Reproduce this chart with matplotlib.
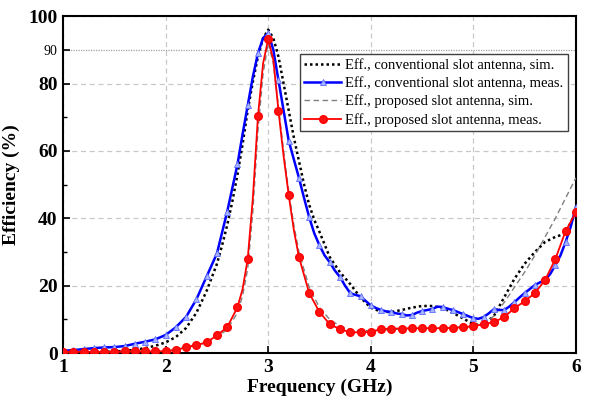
import numpy as np
import matplotlib
matplotlib.use('Agg')
import matplotlib.pyplot as plt

plt.rcParams['font.family'] = ['Liberation Serif', 'DejaVu Serif']

# conventional slot antenna, simulated (black dotted)
f_conv_sim = [1.0, 1.1, 1.2, 1.3, 1.4, 1.5, 1.6, 1.7, 1.8, 1.9, 2.0, 2.1, 2.2, 2.3, 2.4, 2.5,
              2.55, 2.6, 2.65, 2.7, 2.75, 2.8, 2.85, 2.9, 2.95, 3.0, 3.05, 3.1, 3.15, 3.2, 3.25,
              3.3, 3.35, 3.4, 3.45, 3.5, 3.6, 3.7, 3.8, 3.9, 4.0, 4.1, 4.2, 4.3, 4.4, 4.5, 4.6,
              4.7, 4.8, 4.9, 5.0, 5.1, 5.2, 5.3, 5.4, 5.5, 5.6, 5.7, 5.8, 5.9, 6.0]
eff_conv_sim = [0.3, 0.3, 0.35, 0.4, 0.45, 0.5, 0.7, 1.0, 1.5, 2.2, 3.2, 4.8, 7.5, 12.0, 18.5, 26.5,
                32.0, 38.0, 45.0, 53.0, 62.0, 72.0, 80.5, 88.0, 93.5, 96.0, 93.5, 88.0, 80.0, 72.0, 64.0,
                57.0, 50.0, 44.0, 39.5, 36.0, 28.5, 24.0, 20.5, 16.5, 13.5, 12.3, 12.2, 12.8, 13.5, 14.0, 14.0,
                13.4, 12.0, 10.3, 8.6, 8.6, 11.0, 16.5, 22.0, 26.5, 30.0, 33.0, 34.5, 35.5, 42.0]

# conventional slot antenna, measured (blue, triangles every 0.1 GHz)
f_conv_meas = [1.0, 1.1, 1.2, 1.3, 1.4, 1.5, 1.6, 1.7, 1.8, 1.9, 2.0, 2.1, 2.2, 2.3, 2.4, 2.5,
               2.6, 2.65, 2.7, 2.75, 2.8, 2.85, 2.9, 2.95, 3.0, 3.05, 3.1, 3.15, 3.2, 3.25, 3.3, 3.35,
               3.4, 3.45, 3.5, 3.55, 3.6, 3.65, 3.7, 3.75, 3.8, 3.85, 3.9, 3.95, 4.0, 4.05, 4.1, 4.15,
               4.2, 4.25, 4.3, 4.35, 4.4, 4.45, 4.5, 4.55, 4.6, 4.65, 4.7, 4.75, 4.8, 4.85, 4.9, 4.95,
               5.0, 5.05, 5.1, 5.15, 5.2, 5.25, 5.3, 5.35, 5.4, 5.45, 5.5, 5.55, 5.6, 5.65, 5.7, 5.75,
               5.8, 5.85, 5.9, 5.95, 6.0]
eff_conv_meas = [0.7, 0.9, 1.2, 1.5, 1.7, 1.8, 2.1, 2.8, 3.4, 4.1, 5.4, 7.7, 10.8, 16.0, 22.8, 29.6,
                 42.0, 49.0, 56.0, 65.0, 73.5, 82.0, 89.0, 93.5, 95.0, 90.0, 81.0, 72.0, 63.0, 57.5, 52.0, 46.0,
                 40.3, 35.5, 32.0, 29.0, 27.0, 24.5, 22.6, 20.0, 17.8, 17.3, 16.9, 15.5, 14.2, 13.4, 12.8, 12.4,
                 12.2, 11.8, 11.6, 11.2, 11.3, 12.0, 12.5, 12.8, 13.1, 13.8, 13.7, 13.2, 12.8, 12.2, 11.6, 11.0,
                 10.4, 10.2, 10.7, 11.8, 13.0, 12.8, 12.8, 13.8, 15.1, 16.5, 17.8, 19.0, 20.2, 21.0, 21.7, 23.5,
                 26.1, 29.0, 33.0, 37.5, 43.3]

# proposed slot antenna, simulated (grey dashed)
f_prop_sim = [1.0, 1.2, 1.4, 1.6, 1.8, 2.0, 2.1, 2.2, 2.3, 2.4, 2.5, 2.6, 2.7, 2.75, 2.8, 2.85,
              2.9, 2.95, 3.0, 3.05, 3.1, 3.15, 3.2, 3.25, 3.3, 3.4, 3.5, 3.6, 3.7, 3.8, 3.9, 4.0,
              4.2, 4.4, 4.6, 4.8, 5.0, 5.1, 5.2, 5.3, 5.4, 5.5, 5.6, 5.7, 5.8, 5.9, 6.0]
eff_prop_sim = [0.3, 0.3, 0.35, 0.45, 0.6, 0.9, 1.2, 1.6, 2.3, 3.2, 4.8, 7.0, 12.0, 17.0, 25.0, 42.0,
                66.0, 83.0, 92.0, 86.0, 73.0, 60.0, 48.0, 38.0, 30.0, 19.5, 13.5, 10.0, 8.0, 7.0, 6.7, 6.7,
                7.0, 7.2, 7.4, 7.6, 7.9, 8.6, 11.0, 15.0, 19.5, 24.0, 29.0, 34.5, 40.0, 46.0, 52.0]

# proposed slot antenna, measured (red, circles every 0.1 GHz)
f_prop_meas = [1.0, 1.1, 1.2, 1.3, 1.4, 1.5, 1.6, 1.7, 1.8, 1.9, 2.0, 2.1, 2.2, 2.3, 2.4, 2.5,
               2.6, 2.7, 2.75, 2.8, 2.85, 2.9, 2.95, 3.0, 3.05, 3.1, 3.15, 3.2, 3.25, 3.3, 3.4, 3.5,
               3.6, 3.7, 3.8, 3.9, 4.0, 4.1, 4.2, 4.3, 4.4, 4.5, 4.6, 4.7, 4.8, 4.9, 5.0, 5.1,
               5.2, 5.3, 5.4, 5.5, 5.6, 5.7, 5.8, 5.9, 6.0]
eff_prop_meas = [0.4, 0.4, 0.4, 0.4, 0.4, 0.4, 0.5, 0.5, 0.5, 0.5, 0.6, 0.9, 1.8, 2.4, 3.2, 5.3,
                 7.7, 13.6, 19.0, 27.9, 46.0, 70.3, 86.0, 93.2, 87.0, 72.0, 58.5, 46.9, 36.5, 28.5, 17.8, 12.2,
                 8.6, 7.1, 6.2, 6.2, 6.3, 7.1, 7.3, 7.3, 7.4, 7.4, 7.4, 7.4, 7.5, 7.7, 8.0, 8.6,
                 9.2, 10.7, 13.3, 15.4, 17.8, 21.7, 27.9, 36.2, 41.8]


def tenth_marks(freqs):
    f = np.asarray(freqs)
    return [i for i, v in enumerate(f) if abs(v * 10 - round(v * 10)) < 1e-6]


fig = plt.figure(figsize=(5.9, 4.05), dpi=100)
ax = fig.add_axes([0.107, 0.128, 0.869, 0.832])

ax.plot(f_conv_sim, eff_conv_sim, color='black', linestyle=(0, (1, 1.2)), lw=1.8,
        label='Eff., conventional slot antenna, sim.', zorder=3)
ax.plot(f_conv_meas, eff_conv_meas, color='#0000ff', lw=1.8, marker='^', markersize=4.5,
        markerfacecolor='#aab4ff', markeredgecolor='#5a6cff', markeredgewidth=0.6,
        markevery=tenth_marks(f_conv_meas),
        label='Eff., conventional slot antenna, meas.', zorder=4)
ax.plot(f_prop_sim, eff_prop_sim, color='#808080', linestyle=(0, (4, 2.5)), lw=1.0,
        label='Eff., proposed slot antenna, sim.', zorder=3)
ax.plot(f_prop_meas, eff_prop_meas, color='#ff0000', lw=1.3, marker='o', markersize=5.5,
        markerfacecolor='#ff1010', markeredgecolor='#ff0000',
        markevery=tenth_marks(f_prop_meas),
        label='Eff., proposed slot antenna, meas.', zorder=5)

ax.set_xlim(1, 6)
ax.set_ylim(0, 100)
ax.set_xticks([1, 2, 3, 4, 5, 6])
ax.set_yticks([0, 20, 40, 60, 80, 90, 100])
ax.set_yticks([10, 30, 50, 70], minor=True)

for lab in ax.get_xticklabels() + ax.get_yticklabels():
    lab.set_fontweight('bold')
    lab.set_fontsize(14)
lab90 = ax.get_yticklabels()[5]
lab90.set_fontweight('normal')
lab90.set_fontsize(10)

ax.tick_params(which='major', direction='in', length=5, width=1.2, pad=4)
ax.tick_params(which='minor', direction='in', length=3, width=1.0)

ax.grid(True, which='major', color='#c8c8c8', linestyle=(0, (4, 3)), lw=0.9)
ax.yaxis.get_gridlines()[5].set_linestyle((0, (1, 1)))
ax.yaxis.get_gridlines()[5].set_color('#a0a0a0')
ax.set_axisbelow(True)

for sp in ax.spines.values():
    sp.set_linewidth(1.5)

ax.set_xlabel('Frequency (GHz)', fontsize=14, fontweight='bold', labelpad=2)
ax.set_ylabel('Efficiency (%)', fontsize=14, fontweight='bold', labelpad=6)

leg = ax.legend(loc='upper left', bbox_to_anchor=(0.462, 0.887), borderaxespad=0,
                fancybox=False, framealpha=1, edgecolor='#404040', fontsize=10.5,
                handlelength=2.5, handletextpad=0.3, labelspacing=0.32, borderpad=0.3)
leg.get_frame().set_linewidth(1.0)

fig.savefig('out.png', dpi=100)
plt.close()
